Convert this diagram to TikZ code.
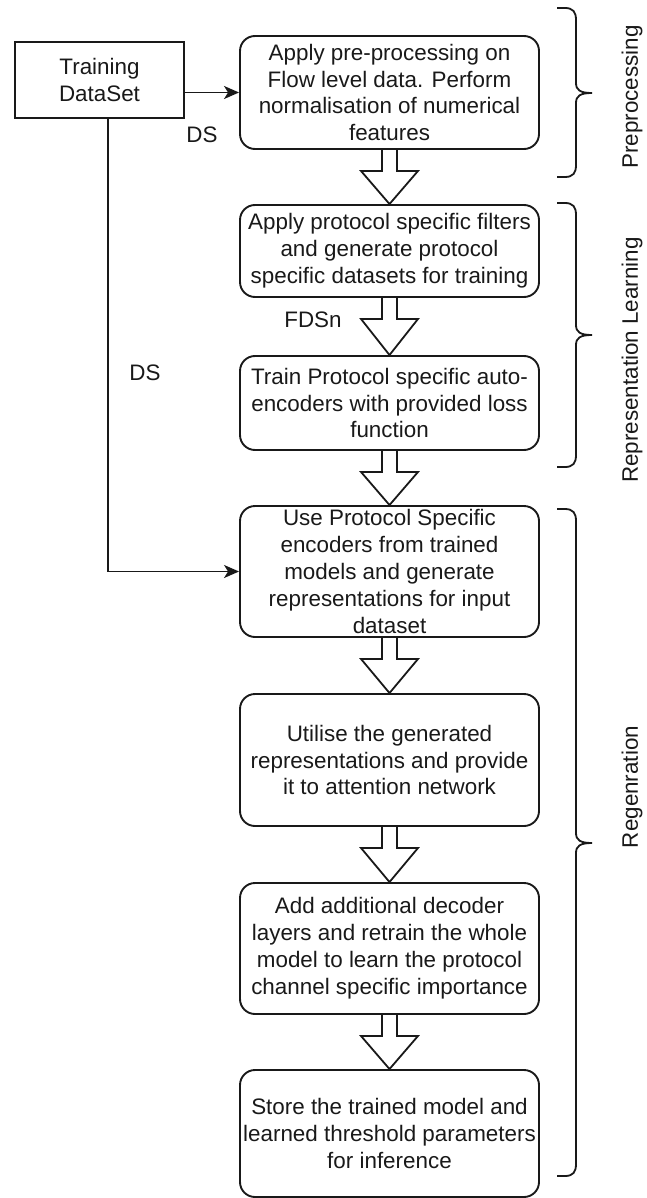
\documentclass[tikz,border=0pt]{standalone}
\usepackage{fontspec}
\setmainfont{Liberation Sans}
\usetikzlibrary{arrows.meta,calc}

% hollow block arrow from the bottom of one step to the top of the next
\newcommand{\blockarrow}[2]{%
  \draw[blockarr] let \p1=(#1.south), \p2=(#2.north) in
    (\x1-7.5pt,\y1) -- (\x1-7.5pt,\y1-21pt) -- (\x1-28.5pt,\y1-21pt)
    -- (\x2,\y2) -- (\x1+28.5pt,\y1-21pt) -- (\x1+7.5pt,\y1-21pt) -- (\x1+7.5pt,\y1);}

% right-hand curly brace: top, tip, bottom
\newcommand{\phasebrace}[3]{%
  \draw[brace] (557,#1) -- (565,#1) .. controls (573,#1) and (576,#1+4) .. (576,#1+12)
    -- (576,#2-10) .. controls (576,#2-3) and (580,#2) .. (592,#2)
    .. controls (580,#2) and (576,#2+3) .. (576,#2+10)
    -- (576,#3-12) .. controls (576,#3-4) and (573,#3) .. (565,#3) -- (557,#3);}

\begin{document}
\begin{tikzpicture}[x=1pt,y=-1pt,
  every node/.style={font=\fontsize{22.4}{26.9}\selectfont, text=black!90},
  stepbox/.style={draw=black!90, line width=1.9pt, rounded corners=15pt,
    minimum width=299pt, inner sep=0pt, align=center},
  srcbox/.style={draw=black!90, line width=1.9pt, minimum width=169pt,
    minimum height=76pt, inner sep=0pt, align=center},
  conn/.style={draw=black!90, line width=1.9pt,
    -{Stealth[length=15pt,width=13pt,inset=4pt]}},
  blockarr/.style={draw=black!90, line width=1.8pt, line join=miter},
  brace/.style={draw=black!90, line width=1.8pt},
  phase/.style={rotate=90}
]
\useasboundingbox (0,0) rectangle (646,1198);

% input data
\node[srcbox] (train) at (99.5,80) {Training\\DataSet};

% processing steps
\node[stepbox, minimum height=113pt] (b1) at (389.5,92.5)
  {Apply pre-processing on\\Flow level data. Perform\\normalisation of numerical\\features};
\node[stepbox, minimum height=92pt] (b2) at (389.5,251)
  {Apply protocol specific filters\\and generate protocol\\specific datasets for training};
\node[stepbox, minimum height=94pt] (b3) at (389.5,403)
  {Train Protocol specific auto-\\encoders with provided loss\\function};
\node[stepbox, minimum height=131pt] (b4) at (389.5,571.5)
  {Use Protocol Specific\\encoders from trained\\models and generate\\representations for input\\dataset};
\node[stepbox, minimum height=132pt] (b5) at (389.5,760)
  {Utilise the generated\\representations and provide\\it to attention network};
\node[stepbox, minimum height=131pt] (b6) at (389.5,948.5)
  {Add additional decoder\\layers and retrain the whole\\model to learn the protocol\\channel specific importance};
\node[stepbox, minimum height=127pt] (b7) at (389.5,1133.5)
  {Store the trained model and\\learned threshold parameters\\for inference};

% flow between steps
\blockarrow{b1}{b2}
\blockarrow{b2}{b3}
\blockarrow{b3}{b4}
\blockarrow{b4}{b5}
\blockarrow{b5}{b6}
\blockarrow{b6}{b7}

% dataset feeds
\draw[conn] (b1.west -| train.east) -- (b1.west);
\draw[conn] ([xshift=8.5pt]train.south) |- (b4.west);

% edge labels
\node (ds1) at (202,135) {DS};
\node (ds2) at (145,373) {DS};
\node (fdsn) at (313,320) {FDSn};

% phases
\phasebrace{8}{93}{177}
\phasebrace{203}{335}{467}
\phasebrace{509}{843}{1176}
\node[phase] (lpre) at (632,97) {Preprocessing};
\node[phase] (lrep) at (632,360) {Representation Learning};
\node[phase] (lreg) at (632,787) {Regenration};
\end{tikzpicture}
\end{document}
